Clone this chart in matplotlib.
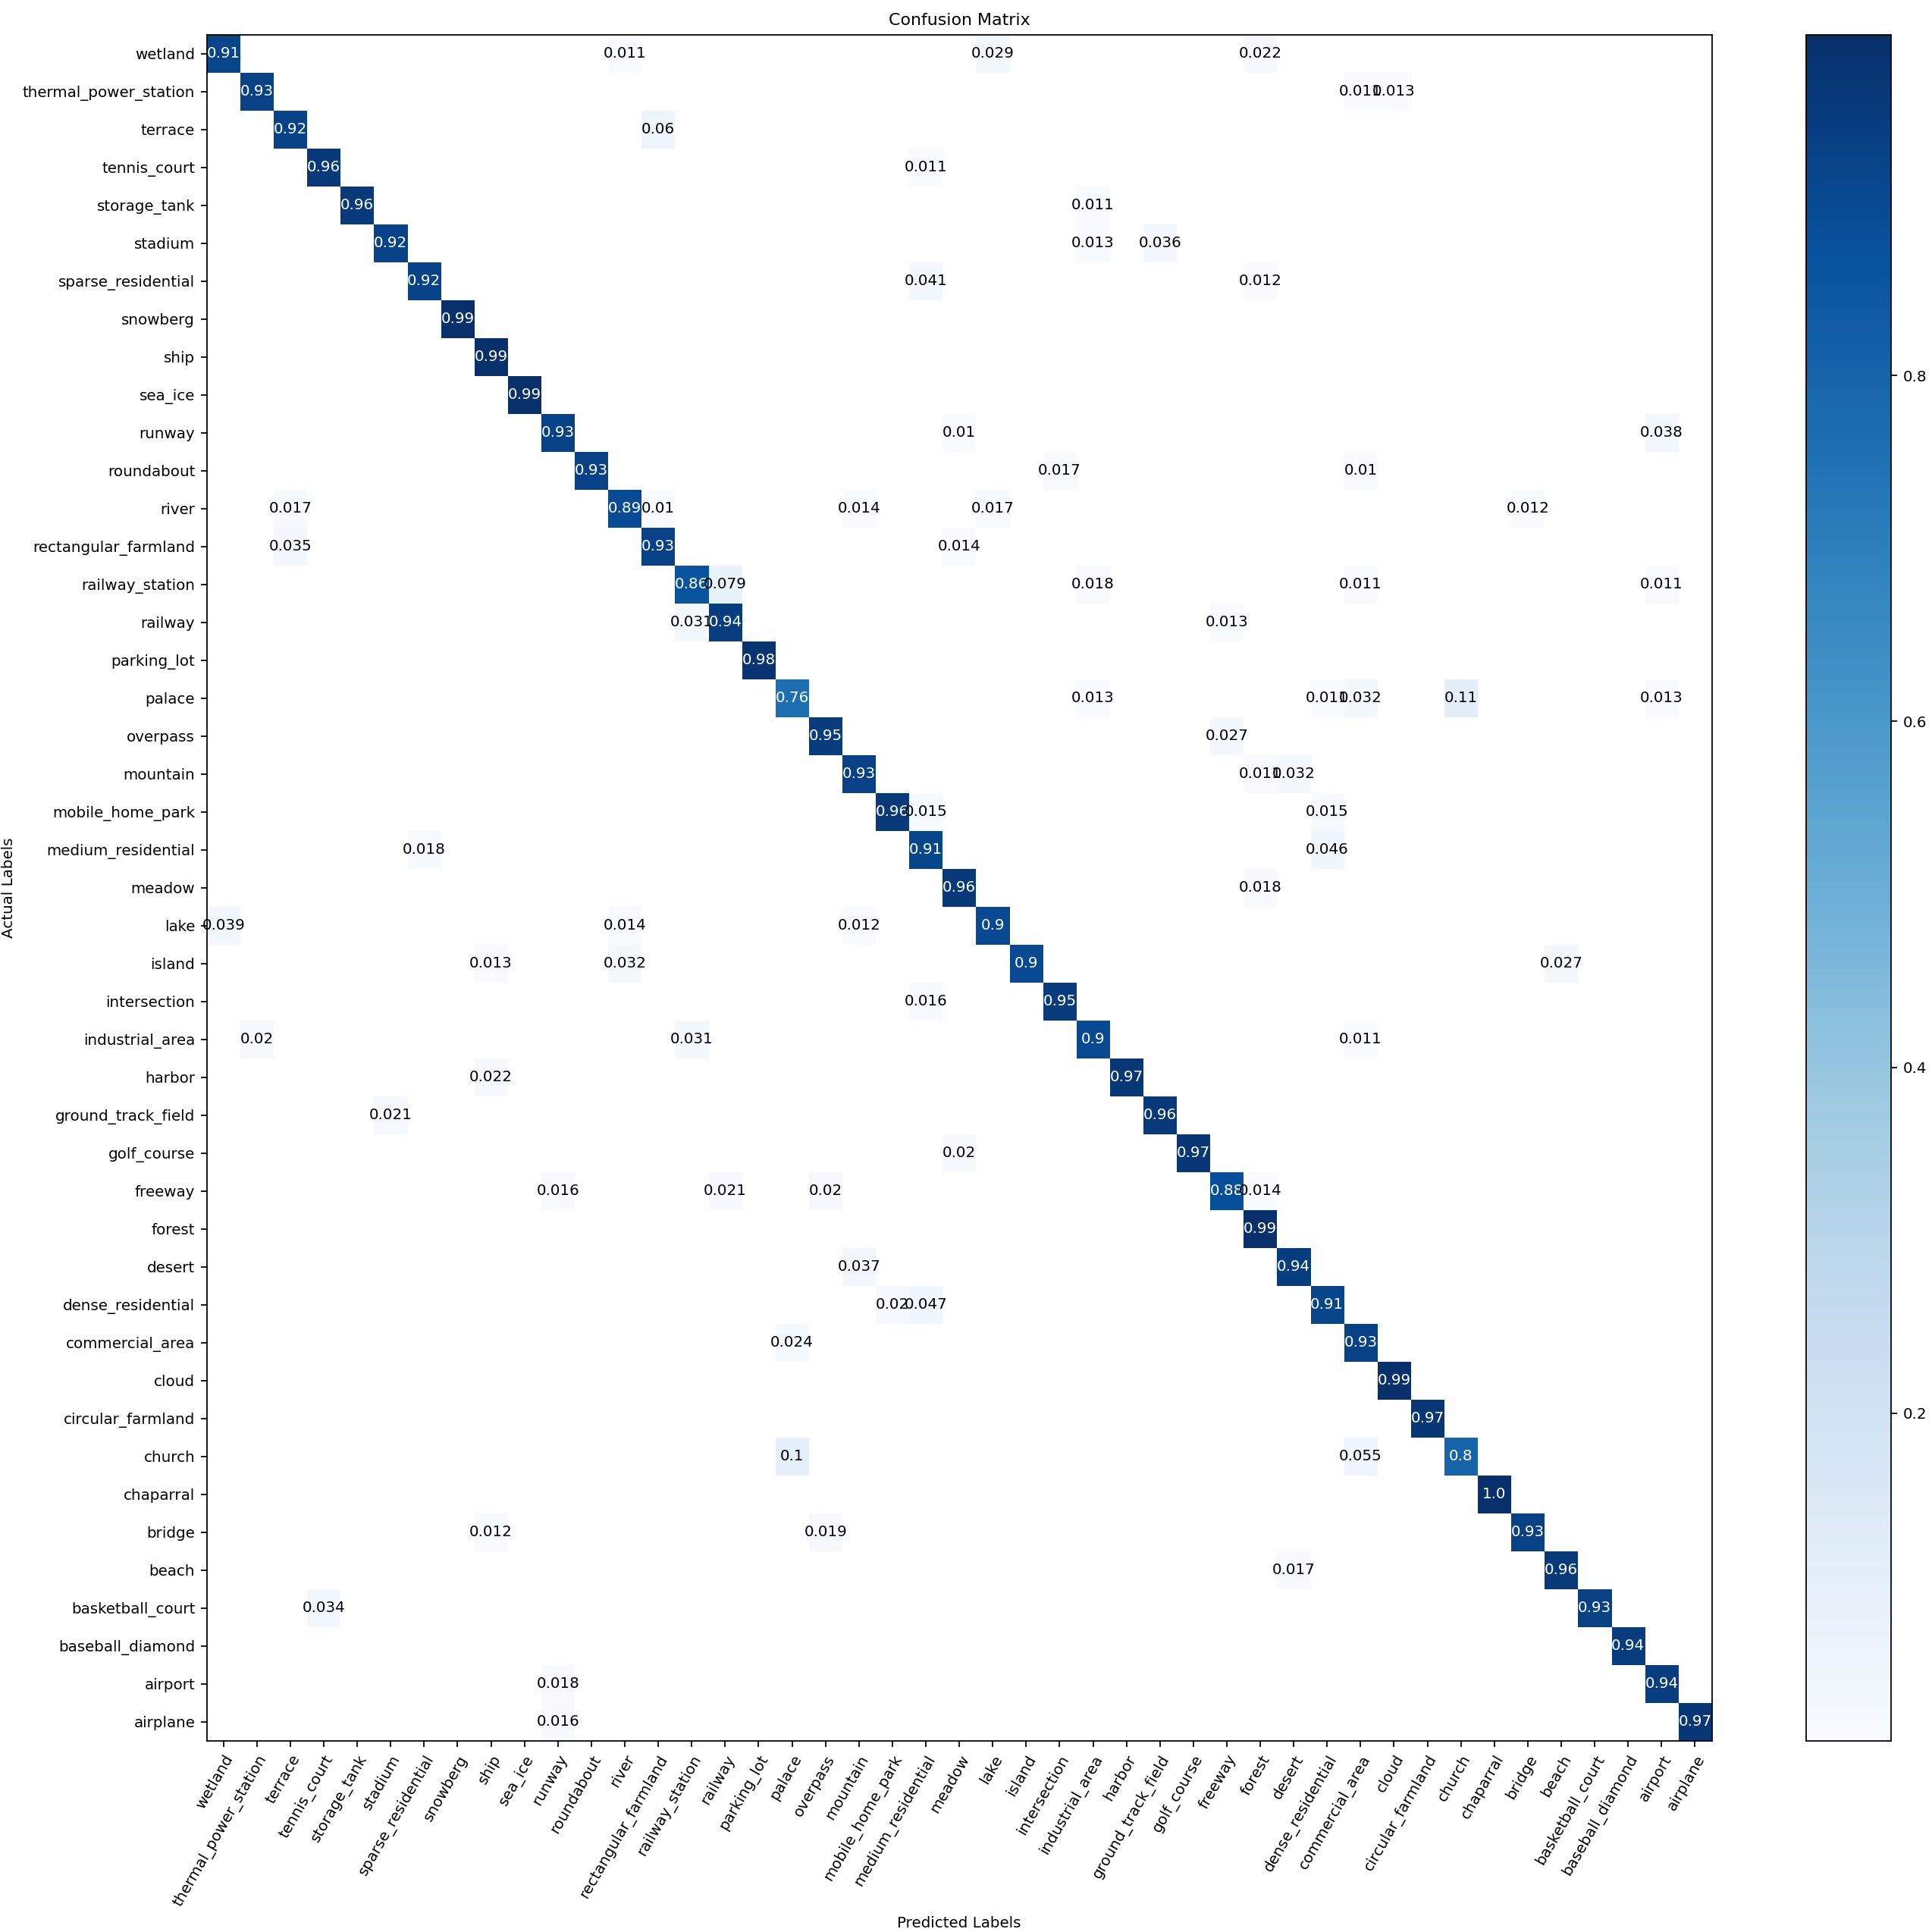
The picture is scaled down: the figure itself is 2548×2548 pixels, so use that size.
import numpy as np
import matplotlib
matplotlib.use("Agg")
import matplotlib.pyplot as plt

classes = ["wetland", "thermal_power_station", "terrace", "tennis_court", "storage_tank",
           "stadium", "sparse_residential", "snowberg", "ship", "sea_ice", "runway",
           "roundabout", "river", "rectangular_farmland", "railway_station", "railway",
           "parking_lot", "palace", "overpass", "mountain", "mobile_home_park",
           "medium_residential", "meadow", "lake", "island", "intersection",
           "industrial_area", "harbor", "ground_track_field", "golf_course", "freeway",
           "forest", "desert", "dense_residential", "commercial_area", "cloud",
           "circular_farmland", "church", "chaparral", "bridge", "beach",
           "basketball_court", "baseball_diamond", "airport", "airplane"]

diagonal = [0.91, 0.93, 0.92, 0.96, 0.96, 0.92, 0.92, 0.99, 0.99, 0.99, 0.93, 0.93,
            0.89, 0.93, 0.86, 0.94, 0.98, 0.76, 0.95, 0.93, 0.96, 0.91, 0.96, 0.9,
            0.9, 0.95, 0.9, 0.97, 0.96, 0.97, 0.88, 0.99, 0.94, 0.91, 0.93, 0.99,
            0.97, 0.8, 1.0, 0.93, 0.96, 0.93, 0.94, 0.94, 0.97]

# (row, col, value) off-diagonal entries
off_diag = [
    (0, 12, 0.011), (0, 23, 0.029), (0, 31, 0.022),
    (1, 34, 0.011), (1, 35, 0.013),
    (2, 13, 0.06),
    (3, 21, 0.011),
    (4, 26, 0.011),
    (5, 26, 0.013), (5, 28, 0.036),
    (6, 21, 0.041), (6, 31, 0.012),
    (10, 22, 0.01), (10, 43, 0.038),
    (11, 25, 0.017), (11, 34, 0.01),
    (12, 2, 0.017), (12, 13, 0.01), (12, 19, 0.014), (12, 23, 0.017), (12, 39, 0.012),
    (13, 2, 0.035), (13, 22, 0.014),
    (14, 15, 0.079), (14, 26, 0.018), (14, 34, 0.011), (14, 43, 0.011),
    (15, 14, 0.031), (15, 30, 0.013),
    (17, 26, 0.013), (17, 33, 0.011), (17, 34, 0.032), (17, 37, 0.11), (17, 43, 0.013),
    (18, 30, 0.027),
    (19, 31, 0.011), (19, 32, 0.032),
    (20, 21, 0.015), (20, 33, 0.015),
    (21, 6, 0.018), (21, 33, 0.046),
    (22, 31, 0.018),
    (23, 0, 0.039), (23, 12, 0.014), (23, 19, 0.012),
    (24, 8, 0.013), (24, 12, 0.032), (24, 40, 0.027),
    (25, 21, 0.016),
    (26, 1, 0.02), (26, 14, 0.031), (26, 34, 0.011),
    (27, 8, 0.022),
    (28, 5, 0.021),
    (29, 22, 0.02),
    (30, 10, 0.016), (30, 15, 0.021), (30, 18, 0.02), (30, 31, 0.014),
    (32, 19, 0.037),
    (33, 20, 0.02), (33, 21, 0.047),
    (34, 17, 0.024),
    (37, 17, 0.1), (37, 34, 0.055),
    (39, 8, 0.012), (39, 18, 0.019),
    (40, 32, 0.017),
    (41, 3, 0.034),
    (43, 10, 0.018),
    (44, 10, 0.016),
]

n = len(classes)
cm = np.full((n, n), np.nan)
for i, v in enumerate(diagonal):
    cm[i, i] = v
for r, c, v in off_diag:
    cm[r, c] = v

fig = plt.figure(figsize=(16, 16), dpi=159.25)
ax = fig.add_axes([0.107, 0.099, 0.779, 0.883])
im = ax.imshow(cm, cmap="Blues", vmin=0.0107, vmax=0.997, aspect="auto")
cax = fig.add_axes([0.935, 0.099, 0.044, 0.883])
fig.colorbar(im, cax=cax)
cax.tick_params(labelsize=9)

for i in range(n):
    for j in range(n):
        v = cm[i, j]
        if np.isnan(v):
            continue
        ax.text(j, i, str(float(v)), ha="center", va="center", fontsize=9,
                color="white" if v > 0.5 else "black")

ax.set_xticks(range(n))
ax.set_yticks(range(n))
ax.set_xticklabels(classes, rotation=60, ha="right", rotation_mode="anchor", fontsize=9)
ax.set_yticklabels(classes, fontsize=9)
ax.set_xlabel("Predicted Labels", fontsize=9)
ax.set_ylabel("Actual Labels", fontsize=9)
ax.set_title("Confusion Matrix", fontsize=10)

fig.savefig("out.png", dpi=159.25)
